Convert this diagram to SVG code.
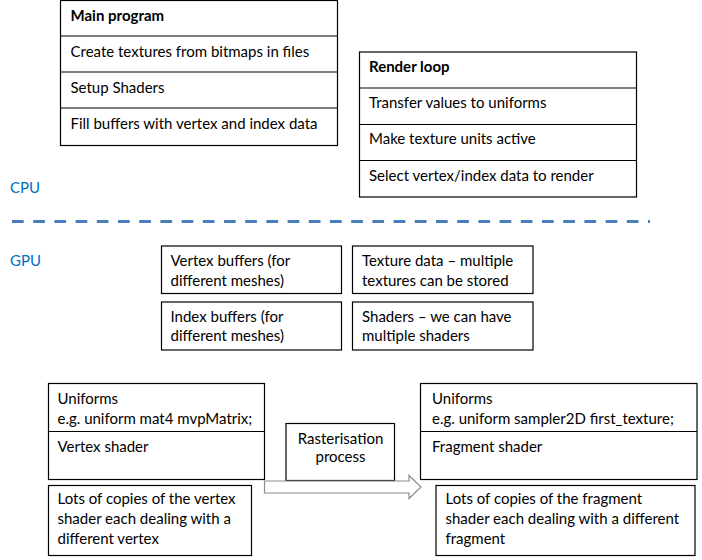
<svg xmlns="http://www.w3.org/2000/svg" width="702" height="560" viewBox="0 0 702 560">
<style>
  .box { fill: #fff; stroke: #000; stroke-width: 1.2; }
  .div { stroke: #000; stroke-width: 1.2; }
  text { font-family: Lato, "Liberation Sans", sans-serif; font-size: 15px; fill: #000; }
  .b { font-weight: bold; }
  .lbl { fill: #0070C0; }
  .mid { text-anchor: middle; }
  .arrow { fill: #fff; stroke: #8c8c8c; stroke-width: 1.2; }
  .dash { stroke: #4a7ebb; stroke-width: 3; stroke-dasharray: 11.7 9.5; fill: none; }
</style>
<rect width="702" height="560" fill="#fff"/>

<g id="main-program">
  <rect class="box" x="60.5" y="0.5" width="277" height="145"/>
  <line class="div" x1="60.5" y1="36" x2="337.5" y2="36"/>
  <line class="div" x1="60.5" y1="72" x2="337.5" y2="72"/>
  <line class="div" x1="60.5" y1="108" x2="337.5" y2="108"/>
  <text class="b" x="70.5" y="20.5">Main program</text>
  <text x="70.5" y="56.5">Create textures from bitmaps in files</text>
  <text x="70.5" y="92.5">Setup Shaders</text>
  <text x="70.5" y="128.5">Fill buffers with vertex and index data</text>
</g>

<g id="render-loop">
  <rect class="box" x="359.5" y="52" width="277" height="145"/>
  <line class="div" x1="359.5" y1="88" x2="636.5" y2="88"/>
  <line class="div" x1="359.5" y1="124.5" x2="636.5" y2="124.5"/>
  <line class="div" x1="359.5" y1="160.5" x2="636.5" y2="160.5"/>
  <text class="b" x="369" y="72">Render loop</text>
  <text x="369" y="108">Transfer values to uniforms</text>
  <text x="369" y="144">Make texture units active</text>
  <text x="369" y="180.5">Select vertex/index data to render</text>
</g>

<g id="cpu-label"><text class="lbl" x="10" y="193">CPU</text></g>
<g id="divider"><line class="dash" x1="12" y1="221.5" x2="650" y2="221.5"/></g>
<g id="gpu-label"><text class="lbl" x="10" y="265.5">GPU</text></g>

<g id="vertex-buffers">
  <rect class="box" x="161.5" y="246" width="180" height="47.5"/>
  <text x="170.5" y="265.5">Vertex buffers (for</text>
  <text x="170.5" y="285.5">different meshes)</text>
</g>
<g id="index-buffers">
  <rect class="box" x="161.5" y="302" width="180" height="48"/>
  <text x="170.5" y="322">Index buffers (for</text>
  <text x="170.5" y="341">different meshes)</text>
</g>
<g id="texture-data">
  <rect class="box" x="352.5" y="246" width="180.5" height="47.5"/>
  <text x="362" y="265.5">Texture data – multiple</text>
  <text x="362" y="285.5">textures can be stored</text>
</g>
<g id="shaders">
  <rect class="box" x="352.5" y="302" width="180.5" height="48"/>
  <text x="362" y="322">Shaders – we can have</text>
  <text x="362" y="341">multiple shaders</text>
</g>

<g id="vertex-uniforms">
  <rect class="box" x="48.5" y="383.5" width="216" height="96"/>
  <line class="div" x1="48.5" y1="431.5" x2="264.5" y2="431.5"/>
  <text x="57.5" y="403.5">Uniforms</text>
  <text x="57.5" y="423.5">e.g. uniform mat4 mvpMatrix;</text>
  <text x="57.5" y="452">Vertex shader</text>
</g>
<g id="vertex-copies">
  <rect class="box" x="48.5" y="485.5" width="203" height="70"/>
  <text x="57.5" y="503.5">Lots of copies of the vertex</text>
  <text x="57.5" y="523.5">shader each dealing with a</text>
  <text x="57.5" y="543.5">different vertex</text>
</g>

<g id="rasterisation">
  <rect class="box" x="286" y="423.5" width="108.5" height="57"/>
  <text class="mid" x="340.5" y="443.5">Rasterisation</text>
  <text class="mid" x="340.5" y="462">process</text>
</g>

<g id="fragment-uniforms">
  <rect class="box" x="420.5" y="383.5" width="276.5" height="96"/>
  <line class="div" x1="420.5" y1="431.5" x2="697" y2="431.5"/>
  <text x="432" y="403.5">Uniforms</text>
  <text x="432" y="423.5">e.g. uniform sampler2D first_texture;</text>
  <text x="432" y="452">Fragment shader</text>
</g>
<g id="fragment-copies">
  <rect class="box" x="436" y="485.5" width="259" height="70"/>
  <text x="445.5" y="504">Lots of copies of the fragment</text>
  <text x="445.5" y="524">shader each dealing with a different</text>
  <text x="445.5" y="543.5">fragment</text>
</g>

<g id="connectors">
  <path class="arrow" d="M264.5,481 H409 V475.5 L421,487 L409,498.5 V493 H264.5 Z"/>
</g>
</svg>
